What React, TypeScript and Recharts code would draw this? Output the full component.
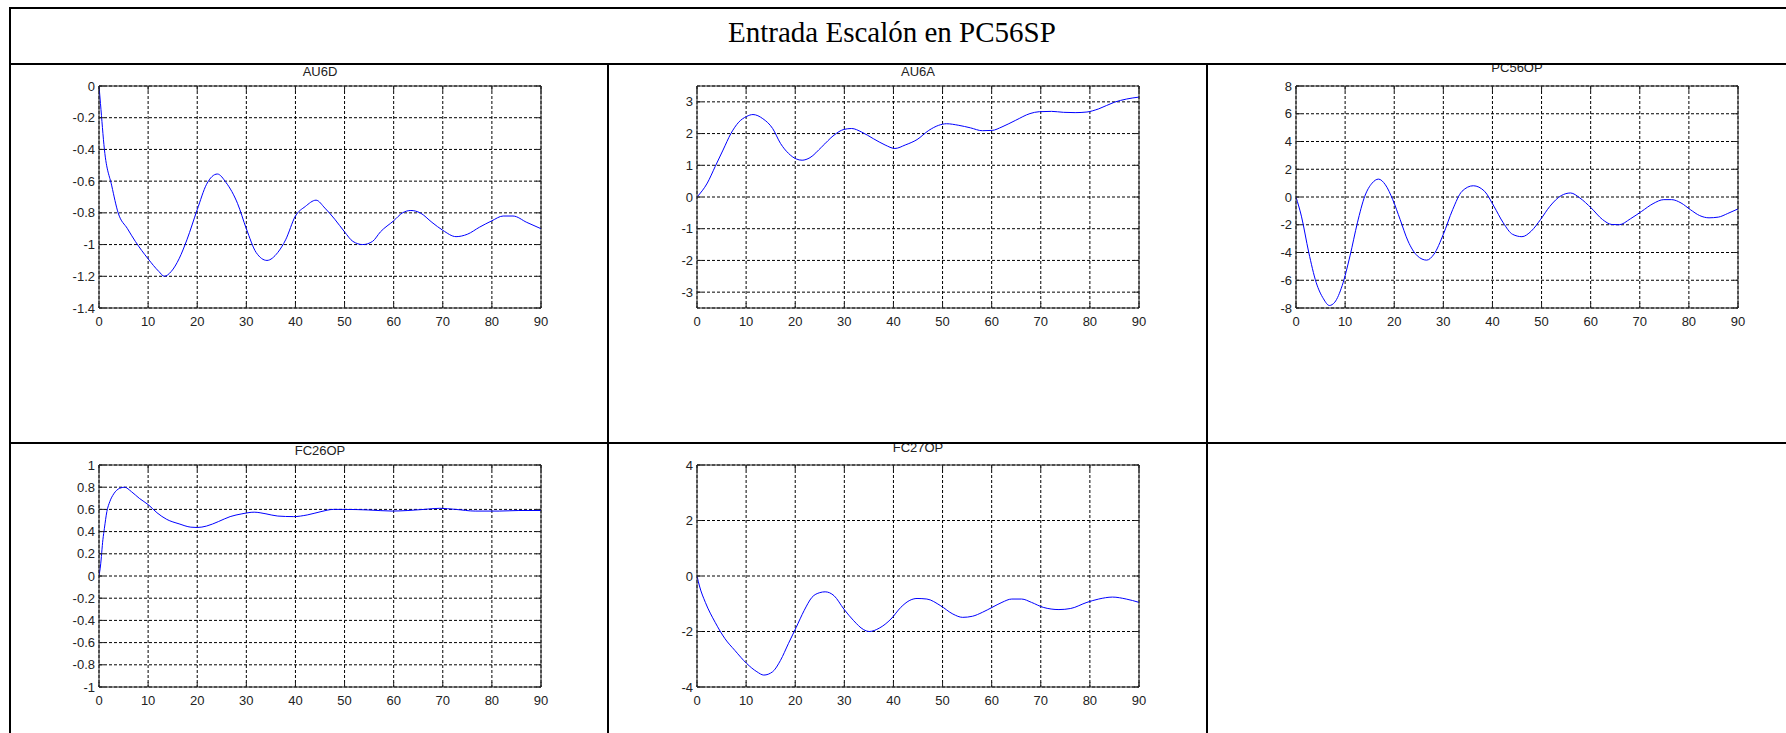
import React from 'react';
import { LineChart, Line, XAxis, YAxis, CartesianGrid } from 'recharts';

// shared x axis (time)
const xTicks = [0, 10, 20, 30, 40, 50, 60, 70, 80, 90];

// AU6D
const au6dT = [0, 0.3, 1.1, 2.6, 3.9, 5.8, 7.4, 10, 12.2, 13.3, 14.7, 16.3, 17.9, 20, 21.9, 24.1, 25.9, 28.2, 30, 32, 34.2, 36.4, 38, 40, 42, 44.2, 46, 48, 50, 51.7, 53.7, 55.7, 57.3, 60, 61.8, 63.5, 65.4, 67.8, 70, 72.7, 75, 77.5, 80, 82.3, 84.3, 87.1, 90];
const au6dV = [0, -0.11, -0.4, -0.63, -0.8, -0.9, -0.98, -1.09, -1.17, -1.2, -1.17, -1.09, -0.97, -0.78, -0.62, -0.555, -0.61, -0.74, -0.9, -1.05, -1.1, -1.05, -0.97, -0.82, -0.76, -0.72, -0.77, -0.84, -0.92, -0.98, -1.0, -0.98, -0.92, -0.85, -0.8, -0.785, -0.8, -0.86, -0.91, -0.95, -0.935, -0.89, -0.85, -0.82, -0.82, -0.86, -0.9];
const au6dTicks = [0, -0.2, -0.4, -0.6, -0.8, -1, -1.2, -1.4];

// AU6A
const au6aT = [0, 2.1, 3.7, 5.3, 6.9, 8.5, 10.1, 11.4, 13.4, 15.4, 17, 18.6, 20.2, 21.4, 23, 25.4, 27.9, 29.9, 31.5, 33.5, 35.9, 38.3, 40.3, 42.4, 44.8, 47.2, 49.2, 50.8, 53.3, 55.7, 58.1, 60.1, 62.1, 64.9, 67.8, 69.7, 72.2, 74.6, 77, 79.4, 81.8, 85, 87.5, 90];
const au6aV = [0, 0.44, 0.96, 1.48, 2.0, 2.36, 2.54, 2.6, 2.47, 2.16, 1.69, 1.38, 1.2, 1.16, 1.24, 1.58, 1.95, 2.13, 2.16, 2.05, 1.84, 1.64, 1.53, 1.64, 1.81, 2.1, 2.26, 2.31, 2.26, 2.18, 2.09, 2.1, 2.21, 2.42, 2.63, 2.69, 2.7, 2.67, 2.66, 2.68, 2.78, 2.99, 3.09, 3.15];
const au6aTicks = [-3, -2, -1, 0, 1, 2, 3];

// PC56OP
const pc56T = [0, 1.1, 2.6, 4.1, 5.6, 6.8, 7.9, 9.4, 11, 12.5, 14, 15.5, 16.8, 18.2, 19.7, 21.2, 22.8, 24.7, 26.6, 28.1, 30, 31.9, 33.8, 36.1, 38.4, 40.3, 42.2, 44.1, 46, 47.9, 49.8, 51.7, 54, 55.9, 57.8, 60.1, 62.4, 64.3, 65.8, 68.1, 70.4, 72.7, 74.9, 76.5, 78.4, 80.3, 82.2, 84.1, 86, 87.9, 90];
const pc56V = [0, -1.38, -4.0, -6.15, -7.34, -7.82, -7.58, -6.39, -4.24, -1.86, 0.05, 1.0, 1.29, 0.88, -0.19, -1.62, -3.17, -4.24, -4.55, -4.12, -2.69, -0.91, 0.41, 0.81, 0.41, -0.67, -1.86, -2.69, -2.86, -2.46, -1.62, -0.67, 0.1, 0.29, -0.07, -0.79, -1.62, -1.98, -2.0, -1.57, -1.03, -0.48, -0.19, -0.19, -0.43, -0.91, -1.34, -1.5, -1.45, -1.19, -0.86];
const pc56Ticks = [-8, -6, -4, -2, 0, 2, 4, 6, 8];

// FC26OP
const fc26T = [0, 0.3, 0.8, 1.1, 1.6, 2.2, 3, 4.2, 5.2, 6.6, 8.2, 10.1, 11.8, 13.8, 16.3, 18.7, 20, 21.9, 24.3, 26.7, 29.1, 31.6, 34, 36.4, 39.6, 42.4, 45.2, 47.7, 50, 54.8, 59.7, 62.9, 66.2, 69.4, 72.6, 76.6, 81.5, 85.5, 90];
const fc26V = [0, 0.09, 0.33, 0.43, 0.58, 0.67, 0.74, 0.79, 0.8, 0.76, 0.7, 0.64, 0.57, 0.51, 0.47, 0.44, 0.437, 0.45, 0.49, 0.535, 0.56, 0.575, 0.56, 0.54, 0.535, 0.55, 0.58, 0.6, 0.6, 0.595, 0.585, 0.59, 0.6, 0.61, 0.6, 0.585, 0.585, 0.59, 0.59];
const fc26Ticks = [-1, -0.8, -0.6, -0.4, -0.2, 0, 0.2, 0.4, 0.6, 0.8, 1];

// FC27OP
const fc27T = [0, 0.5, 1.7, 3.7, 5.7, 7.7, 10.1, 12.2, 13.6, 15.4, 17, 18.6, 20.2, 21.8, 23.4, 25, 26.1, 27.9, 29.9, 31.9, 33.9, 35.1, 37.1, 39.5, 41.5, 43.2, 44.8, 46.8, 49.6, 52.1, 54.1, 56.1, 58.1, 60.1, 62.1, 64.1, 66.1, 68.1, 70.5, 73.7, 76.1, 79.4, 81.8, 84.6, 87.4, 90];
const fc27V = [0, -0.36, -0.95, -1.67, -2.26, -2.68, -3.15, -3.45, -3.57, -3.45, -3.04, -2.44, -1.85, -1.25, -0.77, -0.6, -0.57, -0.71, -1.19, -1.61, -1.93, -2.0, -1.88, -1.55, -1.13, -0.89, -0.81, -0.83, -1.07, -1.37, -1.49, -1.45, -1.31, -1.13, -0.95, -0.83, -0.83, -0.95, -1.13, -1.21, -1.17, -0.95, -0.83, -0.76, -0.83, -0.95];
const fc27Ticks = [-4, -2, 0, 2, 4];

const BOX = '#222';
const TXT = '#222';
const SANS = '"Liberation Sans", Arial, sans-serif';
const FS = 13;

const CHART_W = 596;
const CHART_H = 300;
const MARGIN = { top: 20, right: 56, bottom: 27, left: 48 };

function toRows(t: number[], v: number[]) {
  return t.map((x, i) => ({ t: x, v: v[i] }));
}

// MATLAB style: ticks point into the box
function BottomTick(props: any) {
  const { x, y, payload } = props;
  return (
    <g>
      <line x1={x} y1={y} x2={x} y2={y - 5} stroke={BOX} />
      <text x={x} y={y + 18} textAnchor="middle" fontSize={FS} fontFamily={SANS} fill={TXT}>
        {payload.value}
      </text>
    </g>
  );
}

function TopTick(props: any) {
  const { x, y } = props;
  return <line x1={x} y1={y} x2={x} y2={y + 5} stroke={BOX} />;
}

function LeftTick(props: any) {
  const { x, y, payload } = props;
  return (
    <g>
      <line x1={x} y1={y} x2={x + 5} y2={y} stroke={BOX} />
      <text x={x - 4} y={y + 4.5} textAnchor="end" fontSize={FS} fontFamily={SANS} fill={TXT}>
        {payload.value}
      </text>
    </g>
  );
}

function RightTick(props: any) {
  const { x, y } = props;
  return <line x1={x} y1={y} x2={x - 5} y2={y} stroke={BOX} />;
}

interface PlotProps {
  t: number[];
  v: number[];
  domain: [number, number];
  ticks: number[];
  left: number;
  top: number;
}

function Plot({ t, v, domain, ticks, left, top }: PlotProps) {
  const data = toRows(t, v);
  return (
    <div style={{ position: 'absolute', left, top, width: CHART_W, height: CHART_H }}>
      <LineChart width={CHART_W} height={CHART_H} data={data} margin={MARGIN}>
        <CartesianGrid xAxisId="b" yAxisId="l" stroke="#000" strokeDasharray="3 2" />
        <XAxis
          xAxisId="b"
          dataKey="t"
          type="number"
          domain={[0, 90]}
          ticks={xTicks}
          interval={0}
          height={30}
          tickSize={0}
          tickMargin={0}
          tickLine={false}
          axisLine={{ stroke: BOX }}
          tick={BottomTick}
          allowDataOverflow
        />
        <XAxis
          xAxisId="t"
          orientation="top"
          dataKey="t"
          type="number"
          domain={[0, 90]}
          ticks={xTicks}
          interval={0}
          height={1}
          tickSize={0}
          tickMargin={0}
          tickLine={false}
          axisLine={{ stroke: BOX }}
          tick={TopTick}
          allowDataOverflow
        />
        <YAxis
          yAxisId="l"
          type="number"
          domain={domain}
          ticks={ticks}
          interval={0}
          width={40}
          tickSize={0}
          tickMargin={0}
          tickLine={false}
          axisLine={{ stroke: BOX }}
          tick={LeftTick}
          allowDataOverflow
        />
        <YAxis
          yAxisId="r"
          orientation="right"
          type="number"
          domain={domain}
          ticks={ticks}
          interval={0}
          width={10}
          tickSize={0}
          tickMargin={0}
          tickLine={false}
          axisLine={{ stroke: BOX }}
          tick={RightTick}
          allowDataOverflow
        />
        <Line
          xAxisId="b"
          yAxisId="l"
          dataKey="v"
          type="monotone"
          stroke="#0000ff"
          strokeWidth={1}
          dot={false}
          isAnimationActive={false}
        />
        <Line
          xAxisId="t"
          yAxisId="r"
          dataKey="v"
          stroke="none"
          dot={false}
          isAnimationActive={false}
        />
      </LineChart>
    </div>
  );
}

export default function App() {
  return (
    <div style={{ position: 'absolute', left: 0, top: 0, width: 1786, height: 733, overflow: 'hidden', background: '#fff' }}>
      <Plot t={au6dT} v={au6dV} domain={[-1.4, 0]} ticks={au6dTicks} left={11} top={65} />
      <Plot t={au6aT} v={au6aV} domain={[-3.5, 3.5]} ticks={au6aTicks} left={609} top={65} />
      <Plot t={pc56T} v={pc56V} domain={[-8, 8]} ticks={pc56Ticks} left={1208} top={65} />
      <Plot t={fc26T} v={fc26V} domain={[-1, 1]} ticks={fc26Ticks} left={11} top={444} />
      <Plot t={fc27T} v={fc27V} domain={[-4, 4]} ticks={fc27Ticks} left={609} top={444} />
      <svg width={1786} height={733} style={{ position: 'absolute', left: 0, top: 0, pointerEvents: 'none' }}>
        <g fontFamily={SANS} fontSize={FS} fill={TXT} textAnchor="middle">
          <text x={320} y={76}>AU6D</text>
          <text x={918} y={76}>AU6A</text>
          <text x={1517} y={72}>PC56OP</text>
          <text x={320} y={455}>FC26OP</text>
          <text x={918} y={452}>FC27OP</text>
        </g>
        <text x={728} y={42} fontFamily='"Liberation Serif", "Times New Roman", serif' fontSize={29} fill="#000">
          Entrada Escalón en PC56SP
        </text>
        <g fill="#000">
          <rect x={9} y={7} width={1790} height={2} />
          <rect x={9} y={7} width={2} height={740} />
          <rect x={9} y={63} width={1790} height={2} />
          <rect x={9} y={442} width={1790} height={2} />
          <rect x={607} y={63} width={2} height={680} />
          <rect x={1206} y={63} width={2} height={680} />
        </g>
      </svg>
    </div>
  );
}
